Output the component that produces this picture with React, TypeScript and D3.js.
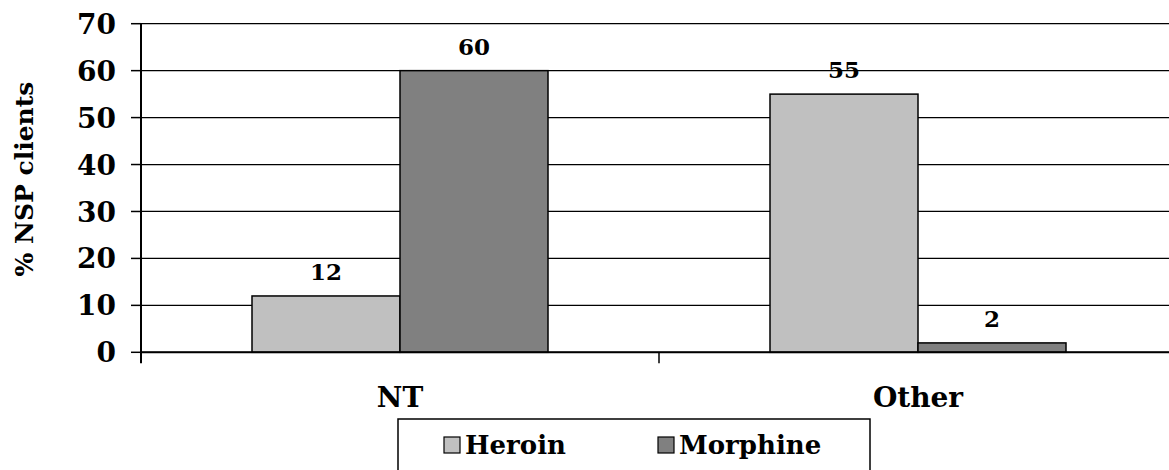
import React from "react";
import * as d3 from "d3";

const categories = ["NT", "Other"];
const seriesNames = ["Heroin", "Morphine"];
const heroinValues = [12, 55];
const morphineValues = [60, 2];
const yTicks = [0, 10, 20, 30, 40, 50, 60, 70];
const seriesColors = ["#C0C0C0", "#808080"];

const W = 1169;
const H = 470;
const FONT = "'DejaVu Serif', serif";

export default function App() {
  const plotLeft = 141;
  const plotRight = 1177;
  const y0 = 352.3;
  const yTop = 23.7;

  const x = d3.scaleBand<string>().domain(categories).range([plotLeft, plotRight]).paddingInner(0).paddingOuter(0);
  const inner = d3
    .scaleBand<string>()
    .domain(seriesNames)
    .range([0, x.bandwidth()])
    .paddingInner(0)
    .paddingOuter(222 / 2 / 148);
  const y = d3.scaleLinear().domain([0, 70]).range([y0, yTop]);

  const values = [heroinValues, morphineValues];

  return (
    <svg
      width={W}
      height={H}
      style={{ position: "absolute", left: 0, top: 0, background: "#fff" }}
      fontFamily={FONT}
      fontWeight="bold"
    >
      {/* gridlines */}
      {yTicks.map((t) => (
        <line key={"g" + t} x1={plotLeft} x2={W} y1={y(t)} y2={y(t)} stroke="#000" strokeWidth={1.3} />
      ))}
      {/* y ticks */}
      {yTicks.map((t) => (
        <line key={"t" + t} x1={plotLeft - 10} x2={plotLeft} y1={y(t)} y2={y(t)} stroke="#000" strokeWidth={1.5} />
      ))}
      {yTicks.map((t) => (
        <text key={"l" + t} x={116} y={y(t)} dy="0.36em" textAnchor="end" fontSize={28} fill="#000">
          {t}
        </text>
      ))}
      {/* bars */}
      {categories.map((c, ci) =>
        seriesNames.map((s, si) => {
          const v = values[si][ci];
          const bx = (x(c) as number) + (inner(s) as number);
          return (
            <g key={c + s}>
              <rect
                x={bx}
                y={y(v)}
                width={inner.bandwidth()}
                height={y0 - y(v)}
                fill={seriesColors[si]}
                stroke="#000"
                strokeWidth={1.5}
              />
              <text x={bx + inner.bandwidth() / 2} y={y(v) - 16} textAnchor="middle" fontSize={23} fill="#000">
                {v}
              </text>
            </g>
          );
        })
      )}
      {/* axes */}
      <line x1={plotLeft} x2={plotLeft} y1={yTop} y2={y0 + 11} stroke="#000" strokeWidth={2} />
      <line x1={plotLeft} x2={W} y1={y0} y2={y0} stroke="#000" strokeWidth={2} />
      {[plotLeft + x.bandwidth(), plotRight].map((tx, i) => (
        <line key={"ct" + i} x1={tx} x2={tx} y1={y0} y2={y0 + 11} stroke="#000" strokeWidth={1.5} />
      ))}
      {/* category labels */}
      {categories.map((c) => (
        <text key={c} x={(x(c) as number) + x.bandwidth() / 2} y={407} textAnchor="middle" fontSize={28} fill="#000">
          {c}
        </text>
      ))}
      {/* y title */}
      <text transform={`translate(33,179) rotate(-90)`} textAnchor="middle" fontSize={25} fill="#000">
        % NSP clients
      </text>
      {/* legend */}
      <rect x={398} y={419} width={472} height={80} fill="#fff" stroke="#000" strokeWidth={1.5} />
      {seriesNames.map((s, i) => {
        const lx = i === 0 ? 444 : 658;
        return (
          <g key={s}>
            <rect x={lx} y={437} width={16} height={16} fill={seriesColors[i]} stroke="#000" strokeWidth={1.2} />
            <text x={lx + 21} y={454} fontSize={26} fill="#000">
              {s}
            </text>
          </g>
        );
      })}
    </svg>
  );
}
